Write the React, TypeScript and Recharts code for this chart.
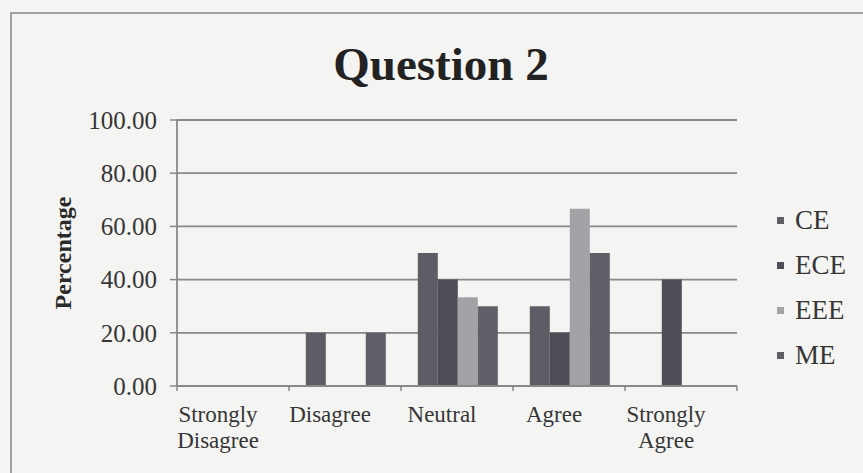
import React from 'react';
import { BarChart, Bar, XAxis, YAxis, CartesianGrid, Legend, Label } from 'recharts';

const categories = ['Strongly Disagree', 'Disagree', 'Neutral', 'Agree', 'Strongly Agree'];
const ceValues = [0, 20, 50, 30, 0];
const eceValues = [0, 0, 40, 20, 40];
const eeeValues = [0, 0, 33.33, 66.67, 0];
const meValues = [0, 20, 30, 50, 0];
const yTicks = [0, 20, 40, 60, 80, 100];

const series = [
  { key: 'CE', color: '#5d5d65' },
  { key: 'ECE', color: '#4e4e56' },
  { key: 'EEE', color: '#a3a3a7' },
  { key: 'ME', color: '#5f5f67' },
];

const data = categories.map((name, i) => ({
  name,
  CE: ceValues[i],
  ECE: eceValues[i],
  EEE: eeeValues[i],
  ME: meValues[i],
}));

const FONT = '"Liberation Serif", "Times New Roman", serif';
const TEXT = '#363636';
const LINE = '#888888';

// category label plus the small tick marks at the band edges (Excel style)
const CategoryTick = (props: any) => {
  const { x, y, payload, index } = props;
  const half = payload && payload.offset ? payload.offset : 56;
  const words: string[] = String(payload.value).split(' ');
  const cx = x - 15;
  const last = index === categories.length - 1;
  return (
    <g>
      <line x1={x - half} x2={x - half} y1={y} y2={y + 5} stroke={LINE} strokeWidth={1.5} />
      {last && <line x1={x + half} x2={x + half} y1={y} y2={y + 5} stroke={LINE} strokeWidth={1.5} />}
      <text x={cx} y={y} textAnchor="middle" fill={TEXT} fontFamily={FONT} fontSize={23}>
        {words.map((w, i) => (
          <tspan key={i} x={cx} dy={i === 0 ? 36 : 26}>
            {w}
          </tspan>
        ))}
      </text>
    </g>
  );
};

const LegendContent = (props: any) => {
  const items = props.payload || [];
  return (
    <div style={{ fontFamily: FONT, fontSize: 27, color: TEXT }}>
      {items.map((item: any) => (
        <div key={item.value} style={{ height: 45, display: 'flex', alignItems: 'center' }}>
          <span style={{ width: 7, height: 7, background: item.color, marginRight: 11, display: 'inline-block' }} />
          {item.value}
        </div>
      ))}
    </div>
  );
};

export default function App() {
  return (
    <div style={{ position: 'relative', width: 863, height: 473, background: '#f4f4f2', overflow: 'hidden' }}>
      <style>{'body{margin:0}'}</style>
      <div
        style={{
          position: 'absolute',
          left: 10,
          top: 12,
          width: 900,
          height: 500,
          borderTop: '2px solid #a0a0a0',
          borderLeft: '2px solid #a0a0a0',
        }}
      />
      <div
        style={{
          position: 'absolute',
          left: 0,
          top: 41,
          width: 882,
          textAlign: 'center',
          fontFamily: FONT,
          fontWeight: 'bold',
          fontSize: 47,
          lineHeight: 1,
          color: '#222',
        }}
      >
        Question 2
      </div>
      <BarChart
        width={863}
        height={473}
        data={data}
        margin={{ top: 120, right: 40, bottom: 0, left: 0 }}
        barCategoryGap="15%"
        barGap={0}
        style={{ position: 'absolute', left: 0, top: 0 }}
      >
        <CartesianGrid vertical={false} stroke={LINE} strokeWidth={1.8} />
        <XAxis
          dataKey="name"
          height={87}
          axisLine={{ stroke: LINE, strokeWidth: 1.8 }}
          tickLine={false}
          tickSize={0}
          tickMargin={0}
          interval={0}
          tick={<CategoryTick />}
        />
        <YAxis
          width={177}
          domain={[0, 100]}
          ticks={yTicks}
          tickFormatter={(v: number) => v.toFixed(2)}
          axisLine={{ stroke: LINE, strokeWidth: 1.8 }}
          tickLine={{ stroke: LINE, strokeWidth: 1.5 }}
          tickSize={7}
          tickMargin={13}
          tick={{ fill: TEXT, fontFamily: FONT, fontSize: 25 }}
        >
          <Label
            content={(p: any) => {
              const vb = p.viewBox;
              const cy = vb.y + vb.height / 2;
              return (
                <text
                  x={63}
                  y={cy}
                  transform={`rotate(-90 63 ${cy})`}
                  textAnchor="middle"
                  dominantBaseline="central"
                  fontFamily={FONT}
                  fontWeight="bold"
                  fontSize={24}
                  fill="#2a2a2a"
                >
                  Percentage
                </text>
              );
            }}
          />
        </YAxis>
        <Legend
          layout="vertical"
          align="right"
          verticalAlign="middle"
          content={<LegendContent />}
          wrapperStyle={{ left: 777, top: 198, width: 86 }}
        />
        {series.map((s) => (
          <Bar key={s.key} dataKey={s.key} fill={s.color} isAnimationActive={false} />
        ))}
      </BarChart>
    </div>
  );
}
